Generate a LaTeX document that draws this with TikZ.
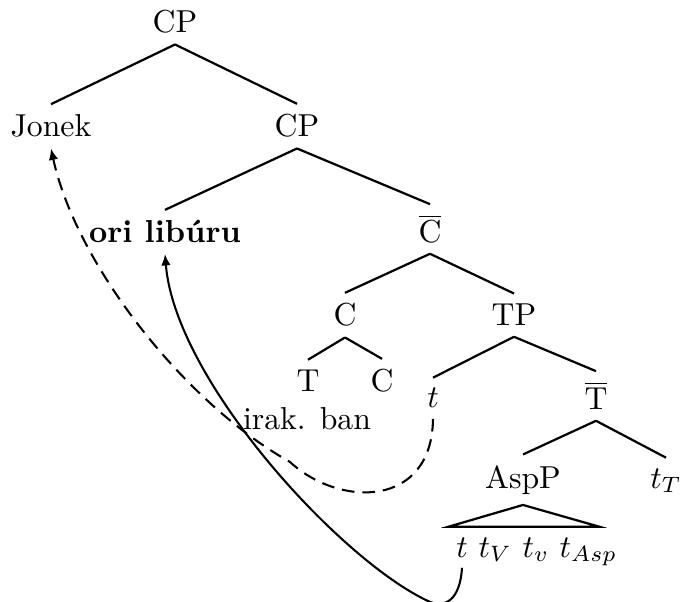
\documentclass[tikz,border=0pt]{standalone}
\usepackage{amsmath}
\usepackage{tikz}
\usetikzlibrary{arrows.meta, positioning}

\begin{document}
\begin{tikzpicture}[x=0.315pt, y=-0.315pt,
	nd/.style={inner sep=3.2pt, anchor=base},
	rama/.style={line width=0.7pt},
	mov/.style={line width=0.65pt, -{Latex[length=3.6pt, width=3pt]}}]

	\useasboundingbox (0,0) rectangle (680,602);

	\node[nd] (cp1) at (175,33) {CP};
	\node[nd] (jonek) at (51,137) {Jonek};
	\node[nd] (cp2) at (297,137) {CP};
	\node[nd] (ori) at (165,243) {\textbf{ori lib\'uru}};
	\node[nd] (cbar) at (430,243) {$\overline{\mathrm{C}}$};
	\node[nd] (c1) at (345,326) {C};
	\node[nd] (tp) at (514,326) {TP};
	\node[nd] (t1) at (308,392) {T};
	\node[nd] (c2) at (382,392) {C};
	\node[nd] (irak) at (307,430) {irak. ban};
	\node[nd] (tmid) at (433,408) {$t$};
	\node[nd] (tbar) at (596,410) {$\overline{\mathrm{T}}$};
	\node[nd] (aspp) at (523,488) {AspP};
	\node[nd] (tT) at (666,488) {$t_T$};
	\node[nd] (tlow) at (462,557) {$t$};
	\node[nd, anchor=base west, base right=-3.4pt of tlow] (trest) {$t_V\ t_v\ t_{Asp}$};

	\draw[rama] (cp1.south) -- (jonek.north);
	\draw[rama] (cp1.south) -- (cp2.north);
	\draw[rama] (cp2.south) -- (ori.north);
	\draw[rama] (cp2.south) -- (cbar.north);
	\draw[rama] (cbar.south) -- (c1.north);
	\draw[rama] (cbar.south) -- (tp.north);
	\draw[rama] (c1.south) -- (t1.north);
	\draw[rama] (c1.south) -- (c2.north);
	\draw[rama] (tp.south) -- (tmid.north);
	\draw[rama] (tp.south) -- (tbar.north);
	\draw[rama] (tbar.south) -- (aspp.north);
	\draw[rama] (tbar.south) -- (tT.north);
	\draw[rama] (aspp.south) -- ([xshift=1pt]tlow.north west)
		-- ([xshift=-9pt]trest.north east) -- cycle;

	\draw[mov, dash pattern=on 4pt off 2.5pt] (tmid.south) .. controls (432,508) and (340,508) .. (290,462)
		.. controls (180,400) and (75,260) .. (jonek.south);
	\draw[mov] (tlow.south) .. controls (460,600) and (445,609) .. (428,601)
		.. controls (340,560) and (175,380) .. (ori.south);
\end{tikzpicture}
\end{document}
